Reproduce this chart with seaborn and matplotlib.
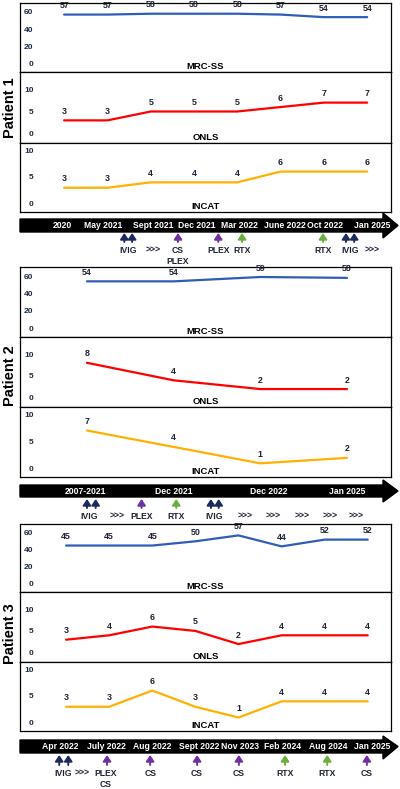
import matplotlib
matplotlib.use('Agg')
import matplotlib.pyplot as plt
import seaborn as sns
import pandas as pd
from matplotlib.patches import Polygon

sns.set_theme(style='white')
plt.rcParams['font.family'] = ['Liberation Sans', 'DejaVu Sans']
plt.rcParams['font.weight'] = 'bold'

# ---------------- data ----------------
p1_dates = ["2020", "May 2021", "Sept 2021", "Dec 2021", "Mar 2022", "June 2022", "Oct 2022", "Jan 2025"]
p1_date_pos = [-0.05, 0.9, 2.06, 3.07, 4.06, 5.1, 6.03, 7.11]
p1_mrc = [57, 57, 58, 58, 58, 57, 54, 54]
p1_onls = [3, 3, 5, 5, 5, 6, 7, 7]
p1_incat = [3, 3, 4, 4, 4, 6, 6, 6]
p1_arrow_pos = [1.39, 1.57, 2.63, 3.56, 4.11, 5.98, 6.51, 6.70]
p1_arrow_kind = ["IVIG", "IVIG", "CS", "PLEX", "RTX", "RTX", "IVIG", "IVIG"]
p1_labels = ["IVIG", ">>>", "CS\nPLEX", "PLEX", "RTX", "RTX", "IVIG", ">>>"]
p1_label_pos = [1.48, 2.06, 2.63, 3.56, 4.11, 5.98, 6.6, 7.11]

p2_dates = ["2007-2021", "Dec 2021", "Dec 2022", "Jan 2025"]
p2_date_pos = [-0.02, 1.0, 2.1, 3.0]
p2_mrc = [54, 54, 59, 58]
p2_onls = [8, 4, 2, 2]
p2_incat = [7, 4, 1, 2]
p2_arrow_pos = [0.0, 0.10, 0.63, 1.03, 1.43, 1.52]
p2_arrow_kind = ["IVIG", "IVIG", "PLEX", "RTX", "IVIG", "IVIG"]
p2_labels = ["IVIG", ">>>", "PLEX", "RTX", "IVIG", ">>>", ">>>", ">>>", ">>>", ">>>"]
p2_label_pos = [0.02, 0.35, 0.63, 1.03, 1.47, 1.82, 2.15, 2.48, 2.80, 3.11]

p3_dates = ["Apr 2022", "July 2022", "Aug 2022", "Sept 2022", "Nov 2023", "Feb 2024", "Aug 2024", "Jan 2025"]
p3_date_pos = [-0.14, 0.93, 2.0, 3.09, 4.04, 5.03, 6.08, 7.1]
p3_mrc = [45, 45, 45, 50, 57, 44, 52, 52]
p3_onls = [3, 4, 6, 5, 2, 4, 4, 4]
p3_incat = [3, 3, 6, 3, 1, 4, 4, 4]
p3_arrow_pos = [-0.16, 0.05, 0.95, 1.95, 3.04, 4.01, 5.08, 6.06, 6.98]
p3_arrow_kind = ["IVIG", "IVIG", "CS", "CS", "CS", "CS", "RTX", "RTX", "CS"]
p3_labels = ["IVIG", ">>>", "PLEX\nCS", "CS", "CS", "CS", "RTX", "RTX", "CS"]
p3_label_pos = [-0.07, 0.37, 0.92, 1.95, 3.04, 4.01, 5.08, 6.06, 6.98]

score_names = ["MRC-SS", "ONLS", "INCAT"]
# ---------------- style ----------------
W, H = 400, 789
line_colors = {"MRC-SS": "#2F5DB8", "ONLS": "#FF0000", "INCAT": "#FFB000"}
ylims = {"MRC-SS": (-10, 70.5), "ONLS": (-2.1, 13.9), "INCAT": (-1.5, 11.3)}
yticks = {"MRC-SS": [0, 20, 40, 60], "ONLS": [0, 5, 10], "INCAT": [0, 5, 10]}
arrow_colors = {"IVIG": "#1B2A5E", "CS": "#7030A0", "PLEX": "#7030A0", "RTX": "#6AAE3E"}
txt_dark = "#1E2333"
tick_col = "#1E2A44"

fig = plt.figure(figsize=(W / 100, H / 100), dpi=100)
fig.patch.set_facecolor('white')

PL, PR = 20, 391  # panel left/right px


def ax_rect(top, bottom):
    return [PL / W, 1 - bottom / H, (PR - PL) / W, (bottom - top) / H]


def draw_patient(name, label_y, bounds, tl, xlim, series, dates, date_pos,
                 arrow_pos, arrow_kind, labels, label_pos):
    xs = list(range(len(series[0])))
    for k, sname in enumerate(score_names):
        top, bottom = bounds[k], bounds[k + 1]
        ax = fig.add_axes(ax_rect(top, bottom))
        df = pd.DataFrame({"t": xs, "v": series[k]})
        sns.lineplot(data=df, x="t", y="v", ax=ax, color=line_colors[sname], lw=1.6)
        for xv, yv in zip(xs, series[k]):
            ax.annotate(str(yv), (xv, yv), xytext=(0, 3.2), textcoords='offset points',
                        ha='center', va='bottom', fontsize=6.4, weight='bold', color=txt_dark)
        ax.set_xlim(*xlim)
        ax.set_ylim(*ylims[sname])
        ax.set_yticks(yticks[sname])
        ax.set_xticks([])
        ax.set_xlabel('')
        ax.set_ylabel('')
        ax.tick_params(axis='y', length=0, pad=-9.8, labelsize=6, labelcolor=tick_col)
        for lab in ax.get_yticklabels():
            lab.set_fontweight('bold')
        for sp in ax.spines.values():
            sp.set_visible(True)
            sp.set_color('black')
            sp.set_linewidth(0.9)
        ax.text(0.5, 0.015, sname, transform=ax.transAxes, ha='center', va='bottom',
                fontsize=6.8, weight='bold', color='black')
    # timeline
    pb = bounds[-1]
    tb = tl["bottom"]
    tax = fig.add_axes(ax_rect(pb, tb))
    tax.set_xlim(*xlim)
    tax.set_ylim(tb, pb)
    tax.axis('off')

    def px2x(px):
        return xlim[0] + (px - PL) / (PR - PL) * (xlim[1] - xlim[0])

    bt, bb, ht, hb = tl["bar"]
    verts = [(px2x(PL), bt), (px2x(383), bt), (px2x(383), ht), (px2x(398), (bt + bb) / 2),
             (px2x(383), hb), (px2x(383), bb), (px2x(PL), bb)]
    tax.add_patch(Polygon(verts, closed=True, facecolor='black', edgecolor='black', clip_on=False))
    for d, p in zip(dates, date_pos):
        tax.text(p, (bt + bb) / 2, d, ha='center', va='center', color='white',
                 fontsize=6.2, weight='bold')
    a_top, a_bot = tl["arrow"]
    for p, kind in zip(arrow_pos, arrow_kind):
        tax.annotate('', xy=(p, a_top), xytext=(p, a_bot),
                     arrowprops=dict(arrowstyle='-|>,head_width=0.3,head_length=0.45',
                                     color=arrow_colors[kind], lw=1.4, shrinkA=0, shrinkB=0,
                                     mutation_scale=8))
    for lab, p in zip(labels, label_pos):
        tax.text(p, tl["label"], lab, ha='center', va='top', fontsize=6.2, weight='bold',
                 color=txt_dark, linespacing=1.3)
    fig.text(10 / W, 1 - label_y / H, name, rotation=90, ha='center', va='center',
             fontsize=10.5, weight='bold', color='black')


draw_patient("Patient 1", 108, [3, 72, 143, 212],
             {"bottom": 265, "bar": (219, 232, 213, 238), "arrow": (233, 242), "label": 246},
             (-1.02, 7.55), [p1_mrc, p1_onls, p1_incat], p1_dates, p1_date_pos,
             p1_arrow_pos, p1_arrow_kind, p1_labels, p1_label_pos)

draw_patient("Patient 2", 376, [267, 337, 407, 477],
             {"bottom": 522, "bar": (485, 497, 480, 502), "arrow": (499, 508), "label": 512},
             (-0.773, 3.508), [p2_mrc, p2_onls, p2_incat], p2_dates, p2_date_pos,
             p2_arrow_pos, p2_arrow_kind, p2_labels, p2_label_pos)

draw_patient("Patient 3", 634, [524, 592, 662, 731],
             {"bottom": 789, "bar": (740, 753, 736, 759), "arrow": (755, 765), "label": 769},
             (-1.07, 7.54), [p3_mrc, p3_onls, p3_incat], p3_dates, p3_date_pos,
             p3_arrow_pos, p3_arrow_kind, p3_labels, p3_label_pos)

fig.savefig('out.png', dpi=100, facecolor='white')
